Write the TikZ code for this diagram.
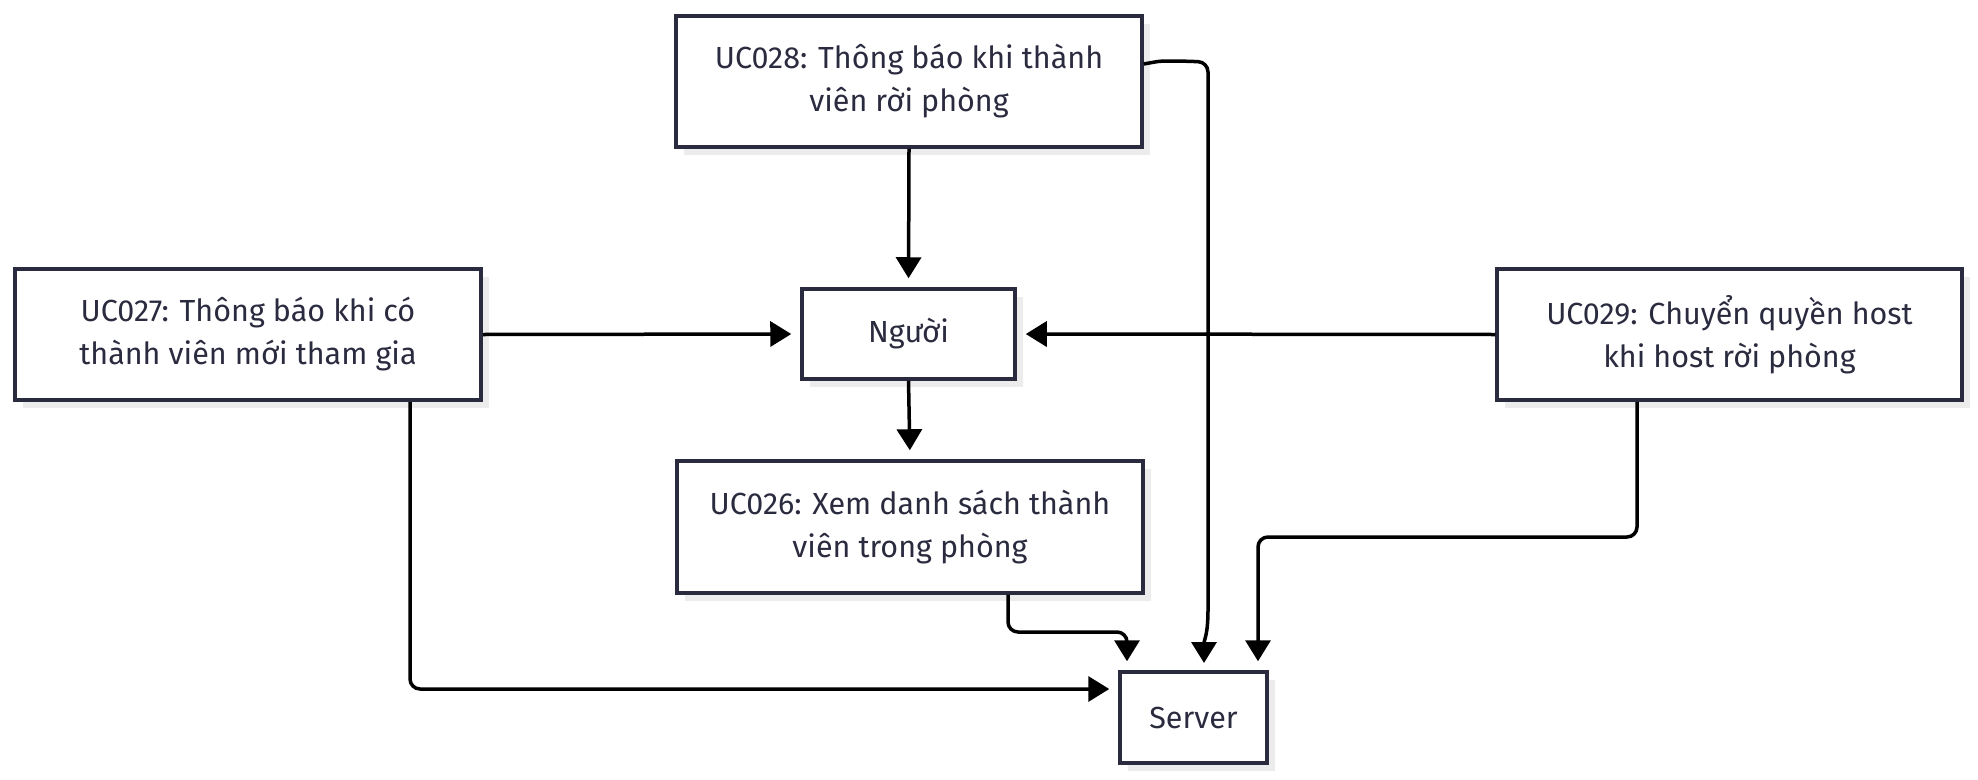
\documentclass[tikz,border=0pt]{standalone}
\usepackage{fontspec}
\setmainfont{Fira Sans}
\usetikzlibrary{arrows.meta,calc}
\definecolor{boxline}{HTML}{2B2B40}
\definecolor{txt}{HTML}{2B2B40}
\definecolor{shadowc}{HTML}{ECECEC}
\tikzset{
  ucbox/.style={draw=boxline,line width=3.5pt,fill=white,align=center,text=txt,
    font=\fontsize{30.5}{43}\selectfont,inner sep=0pt},
  conn/.style={draw=black,line width=3.5pt,rounded corners=10pt,
    -{Triangle[width=25pt,length=21pt]}},
}
\newcommand{\shadowbox}[4]{% x y w h
  \fill[shadowc] (#1-#3/2+8,#2-#4/2+8) rectangle (#1+#3/2+8,#2+#4/2+8);
}
\begin{document}
\begin{tikzpicture}[x=1pt,y=-1pt]
\useasboundingbox (0,0) rectangle (1978,779);
% shadows
\shadowbox{909}{81.5}{466}{131}
\shadowbox{248}{334.5}{466}{131}
\shadowbox{1729.5}{334.5}{465}{131}
\shadowbox{908.5}{334}{213}{90}
\shadowbox{910}{527}{466}{132}
\shadowbox{1193.5}{717.5}{147}{91}
% nodes
\node[ucbox,minimum width=466pt,minimum height=131pt] (uc28) at (909,81.5) {UC028: Thông báo khi thành\\viên rời phòng};
\node[ucbox,minimum width=466pt,minimum height=131pt] (uc27) at (248,334.5) {UC027: Thông báo khi có\\thành viên mới tham gia};
\node[ucbox,minimum width=465pt,minimum height=131pt] (uc29) at (1729.5,334.5) {UC029: Chuyển quyền host\\khi host rời phòng};
\node[ucbox,minimum width=213pt,minimum height=90pt] (nguoi) at (908.5,334) {Người};
\node[ucbox,minimum width=466pt,minimum height=132pt] (uc26) at (910,527) {UC026: Xem danh sách thành\\viên trong phòng};
\node[ucbox,minimum width=147pt,minimum height=91pt] (server) at (1193.5,717.5) {Server};
% connectors
\draw[conn,shorten >=9pt] (uc28.south) -- (nguoi.north);
\draw[conn,shorten >=9pt] (nguoi.south) -- (uc26.north);
\draw[conn,shorten >=9pt] (uc27.east) -- (nguoi.west);
\draw[conn,shorten >=9pt] (uc29.west) -- (nguoi.east);
\coordinate (a0) at (1180,61);
\coordinate (a1) at (1208,62);
\coordinate (a2) at (1208,600);
\coordinate (a3) at (1204,663);
\draw[conn] (uc28.east |- 0,64) .. controls (1160,61) .. (a0) -- (a1) -- (a2) .. controls (1208,635) and (1204,640) .. (a3);
\coordinate (b1) at (1637,537);
\coordinate (b2) at (1258,537);
\draw[conn,shorten >=9pt] (uc29.south -| b1) -- (b1) -- (b2) -- (b2 |- server.north);
\coordinate (c1) at (1008,632);
\coordinate (c2) at (1127,632);
\draw[conn,shorten >=9pt] (uc26.south -| c1) -- (c1) -- (c2) -- (c2 |- server.north);
\coordinate (d1) at (410,689);
\draw[conn,shorten >=9pt] (uc27.south -| d1) -- (d1) -- (server.west |- d1);
\end{tikzpicture}
\end{document}
